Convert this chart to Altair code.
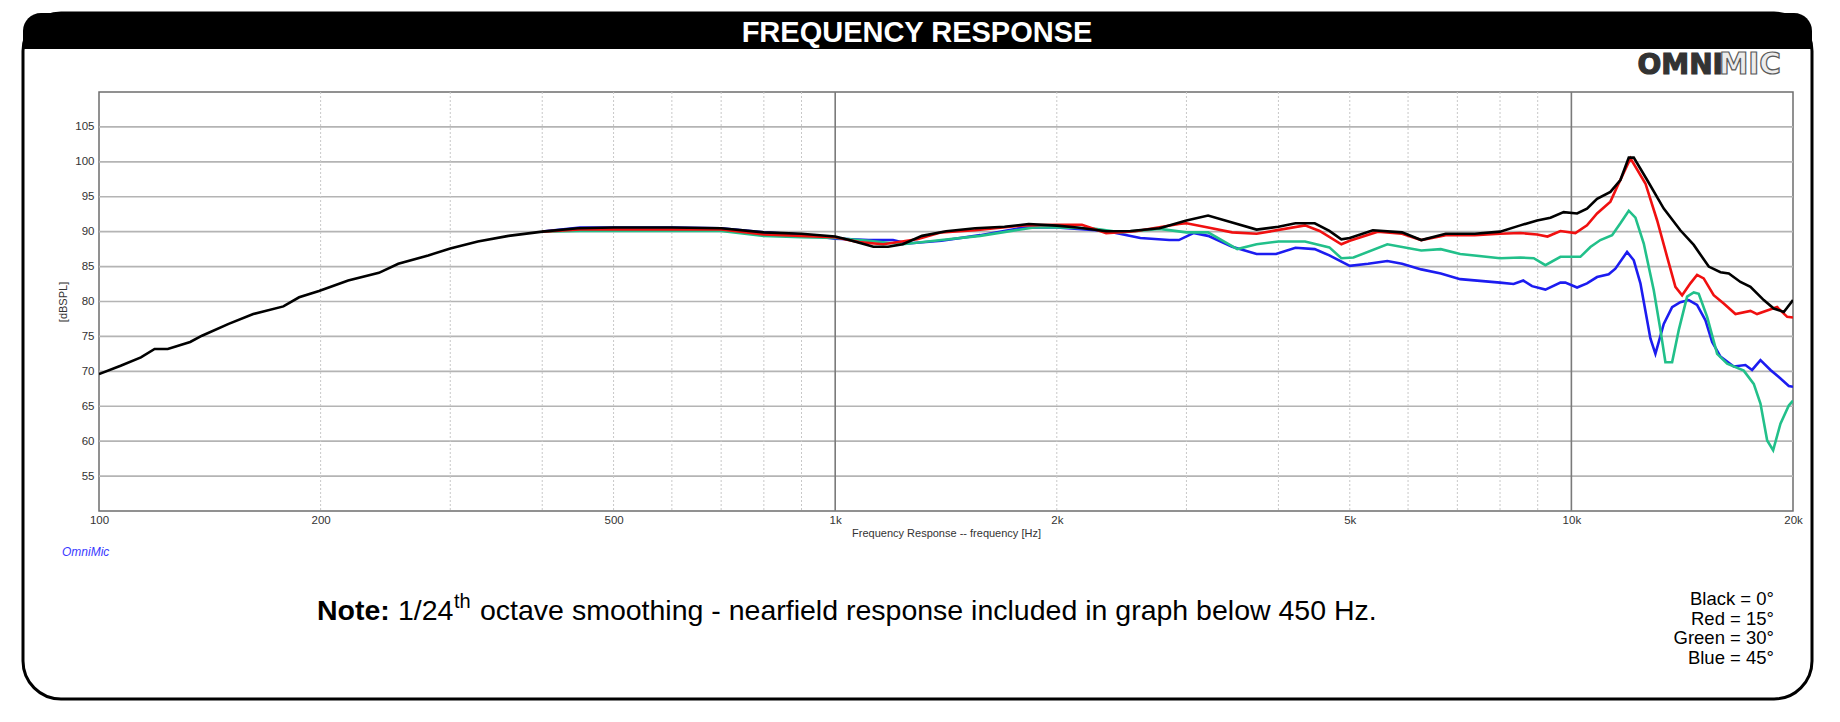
import altair as alt
import pandas as pd

# ---- data (Hz, dBSPL) ----
black_freq = [100, 107, 114, 119, 124, 133, 138, 150, 162, 178, 187, 199, 218, 240, 255, 280,
              300, 327, 360, 400, 447, 500, 600, 700, 800, 900, 1000, 1045, 1127, 1180, 1235,
              1312, 1415, 1549, 1698, 1832, 2000, 2132, 2334, 2518, 2758, 3000, 3210, 3461,
              3736, 4000, 4219, 4481, 4691, 4870, 5000, 5375, 5888, 6253, 6750, 7391, 8000,
              8523, 8983, 9366, 9761, 10180, 10500, 10836, 11298, 11657, 11966, 12155, 12674,
              13350, 14060, 14663, 15366, 15940, 16362, 16968, 17508, 18253, 18833, 19433, 20000]
black_spl = [69.6, 70.8, 72.0, 73.2, 73.2, 74.2, 75.1, 76.8, 78.2, 79.3, 80.6, 81.5, 83.0, 84.1,
             85.4, 86.6, 87.6, 88.6, 89.4, 90.0, 90.5, 90.6, 90.6, 90.5, 89.9, 89.7, 89.3, 88.8,
             87.85, 87.85, 88.2, 89.4, 90.05, 90.5, 90.7, 91.1, 90.86, 90.6, 90.05, 90.1, 90.5,
             91.6, 92.3, 91.3, 90.3, 90.7, 91.2, 91.2, 90.1, 88.9, 89.1, 90.2, 89.9, 88.8, 89.7,
             89.7, 90.0, 90.9, 91.6, 92.0, 92.8, 92.6, 93.3, 94.7, 95.7, 97.4, 100.6, 100.6,
             97.4, 93.3, 90.2, 88.1, 85.0, 84.2, 84.0, 82.8, 82.1, 80.2, 79.0, 78.5, 80.2]

red_freq = [400, 450, 500, 600, 700, 800, 900, 1000, 1077, 1162, 1292, 1394, 1549, 1804, 2000,
            2163, 2334, 2556, 2931, 3000, 3210, 3461, 3736, 4347, 4550, 4870, 5000, 5458, 5888,
            6253, 6750, 7391, 8000, 8523, 8983, 9280, 9663, 10125, 10500, 10836, 11298, 11535,
            12029, 12606, 13077, 13490, 13845, 14138, 14509, 14815, 15126, 15607, 16103, 16706,
            17508, 17874, 19030, 19640, 20000]
red_spl = [90.0, 90.3, 90.3, 90.3, 90.3, 89.6, 89.4, 89.2, 88.5, 88.2, 88.9, 89.9, 90.2, 90.9,
           91.0, 91.0, 89.8, 90.05, 91.1, 91.2, 90.6, 89.9, 89.7, 90.9, 90.1, 88.2, 88.7, 90.0,
           89.7, 88.8, 89.5, 89.5, 89.7, 89.8, 89.6, 89.3, 90.1, 89.8, 90.9, 92.6, 94.3, 96.4,
           100.5, 96.9, 91.6, 86.4, 82.1, 80.9, 82.6, 83.8, 83.3, 80.9, 79.7, 78.2, 78.65, 78.2,
           79.2, 77.8, 77.7]

green_freq = [400, 450, 500, 600, 700, 800, 900, 1000, 1110, 1235, 1394, 1574, 1860, 2000, 2231,
              2443, 2758, 3000, 3210, 3517, 3736, 4000, 4347, 4691, 4870, 5058, 5623, 6253, 6647,
              7063, 8000, 8523, 8890, 9220, 9663, 10285, 10612, 10949, 11358, 11657, 11966,
              12218, 12541, 12939, 13213, 13419, 13703, 13990, 14361, 14663, 14893, 15290, 15776,
              16278, 17144, 17690, 18065, 18448, 18795, 19231, 19739, 20000]
green_spl = [90.0, 90.1, 90.1, 90.1, 90.1, 89.4, 89.2, 89.1, 88.7, 88.2, 88.8, 89.4, 90.6, 90.6,
             90.5, 89.9, 90.4, 89.9, 89.9, 87.5, 88.2, 88.6, 88.6, 87.75, 86.2, 86.3, 88.2, 87.3,
             87.5, 86.8, 86.2, 86.3, 86.2, 85.2, 86.4, 86.4, 87.8, 88.8, 89.5, 91.2, 93.0, 92.0,
             88.3, 81.6, 75.9, 71.3, 71.3, 75.9, 80.7, 81.3, 81.1, 77.8, 72.5, 71.1, 70.1, 68.2,
             65.4, 60.1, 58.7, 62.5, 65.1, 65.8]

blue_freq = [400, 450, 500, 600, 700, 800, 900, 1000, 1110, 1198, 1254, 1394, 1574, 1804, 2000,
             2334, 2597, 2843, 2930, 3066, 3210, 3461, 3736, 3970, 4219, 4481, 4691, 5000, 5295,
             5623, 5888, 6253, 6647, 7063, 8000, 8347, 8603, 8843, 9220, 9663, 9813, 10180,
             10500, 10836, 11237, 11475, 11902, 12155, 12410, 12804, 13006, 13350, 13703, 14060,
             14435, 14815, 15210, 15532, 15940, 16616, 17233, 17598, 18065, 18640, 19131, 19739,
             20000]
blue_spl = [90.0, 90.6, 90.6, 90.6, 90.5, 89.9, 89.6, 89.0, 88.8, 88.8, 88.3, 88.7, 89.5, 90.6,
            90.6, 90.1, 89.1, 88.8, 88.8, 89.8, 89.4, 87.85, 86.8, 86.8, 87.7, 87.5, 86.6, 85.1,
            85.4, 85.8, 85.4, 84.6, 84.0, 83.2, 82.7, 82.5, 83.0, 82.2, 81.7, 82.7, 82.7, 82.0,
            82.6, 83.5, 83.9, 84.7, 87.1, 85.9, 82.6, 74.7, 72.5, 76.8, 79.2, 79.9, 80.2, 79.5,
            77.3, 74.2, 72.1, 70.7, 70.9, 70.2, 71.6, 70.2, 69.2, 67.9, 67.8]

x_ticks = [100, 200, 500, 1000, 2000, 5000, 10000, 20000]
minor_freqs = [200, 300, 400, 500, 600, 700, 800, 900,
               2000, 3000, 4000, 5000, 6000, 7000, 8000, 9000]
major_freqs = [1000, 10000]
y_ticks = [55, 60, 65, 70, 75, 80, 85, 90, 95, 100, 105]
legend_lines = ["Black = 0°", "Red = 15°", "Green = 30°", "Blue = 45°"]

W, H = 1694, 419

xscale = alt.Scale(type="log", domain=[100, 20000], nice=False)
yscale = alt.Scale(domain=[50, 110], nice=False, zero=False)

xaxis = alt.Axis(values=x_ticks,
                 labelExpr="datum.value >= 1000 ? (datum.value / 1000) + 'k' : datum.value",
                 grid=False, ticks=False, domain=False, labelFlush=False, labelOverlap=False,
                 labelFontSize=11.5, labelColor="#333", labelPadding=3,
                 title="Frequency Response -- frequency [Hz]", titleFontSize=11,
                 titleFontWeight="normal", titleColor="#333", titlePadding=2)
yaxis = alt.Axis(values=y_ticks, grid=False, ticks=False, domain=False,
                 labelFontSize=11.5, labelColor="#333", labelPadding=5,
                 title="[dBSPL]", titleFontSize=11, titleFontWeight="normal",
                 titleColor="#333", titlePadding=6)

X = alt.X("freq:Q", scale=xscale, axis=xaxis)
Y = alt.Y("spl:Q", scale=yscale, axis=yaxis)

one = pd.DataFrame({"k": [0]})

# grid
hgrid = alt.Chart(pd.DataFrame({"spl": y_ticks})).mark_rule(
    color="#b4b4b4", strokeWidth=1.6).encode(y=Y)
vminor = alt.Chart(pd.DataFrame({"freq": minor_freqs})).mark_rule(
    color="#c8c8c8", strokeWidth=1, strokeDash=[2, 2]).encode(x=X)
vmajor = alt.Chart(pd.DataFrame({"freq": major_freqs})).mark_rule(
    color="#7a7a7a", strokeWidth=1.6).encode(x=X)


def curve(freq, spl, color):
    df = pd.DataFrame({"freq": freq, "spl": spl})
    return alt.Chart(df).mark_line(color=color, strokeWidth=2.6, clip=True).encode(x=X, y=Y)


blue = curve(blue_freq, blue_spl, "#1c1cf0")
green = curve(green_freq, green_spl, "#22c08a")
red = curve(red_freq, red_spl, "#f01010")
black = curve(black_freq, black_spl, "#000000")


def label(text, x, y, **kw):
    return alt.Chart(one).mark_text(text=text, baseline="alphabetic", **kw).encode(
        x=alt.value(x), y=alt.value(y))


# frame and header
frame = alt.Chart(one).mark_rect(
    fill="transparent", stroke="black", strokeWidth=3, cornerRadius=38).encode(
    x=alt.value(-76), x2=alt.value(1713), y=alt.value(-79), y2=alt.value(607))
header = alt.Chart(one).mark_rect(
    fill="black", cornerRadiusTopLeft=38, cornerRadiusTopRight=38).encode(
    x=alt.value(-76), x2=alt.value(1713), y=alt.value(-79), y2=alt.value(-43))
header_text = label("FREQUENCY RESPONSE", 818, -50, color="white", fontSize=29,
                    fontWeight="bold", align="center")

logo_a = label("OMNI", 1624, -18, font="DejaVu Sans", fontWeight="bold", fontSize=28,
               color="#333", stroke="#333", strokeWidth=1.2, align="right")
logo_b = label("MIC", 1620, -18, font="DejaVu Sans", fontWeight="bold", fontSize=29.5,
               color="#ececec", stroke="#5a5a5a", strokeWidth=1.2, align="left")

omnimic = label("OmniMic", -37, 464, fontSize=12, fontStyle="italic", color="#3a3aff",
                align="left")

# note line
note_bold = label("Note:", 218, 528, fontSize=28.5, fontWeight="bold", color="black",
                  align="left")
note_a = label("1/24", 299, 528, fontSize=28.5, color="black", align="left")
note_sup = label("th", 355, 516, fontSize=20, color="black", align="left")
note_b = label("octave smoothing - nearfield response included in graph below 450 Hz.",
               381, 528, fontSize=28.5, color="black", align="left")

legend = [label(t, 1675, 513 + 19.7 * i, fontSize=18.5, color="black", align="right")
          for i, t in enumerate(legend_lines)]

chart = alt.layer(
    hgrid, vminor, vmajor, blue, green, red, black,
    frame, header, header_text, logo_a, logo_b, omnimic,
    note_bold, note_a, note_sup, note_b, *legend
).properties(
    width=W, height=H,
    autosize=alt.AutoSizeParams(type="none"),
    padding={"left": 91, "top": 84, "right": 39, "bottom": 203},
    background="white"
).configure(font="Liberation Sans").configure_view(stroke="#6e6e6e", strokeWidth=1.5)

chart.save("out.html", embed_options={"renderer": "svg", "actions": False})
